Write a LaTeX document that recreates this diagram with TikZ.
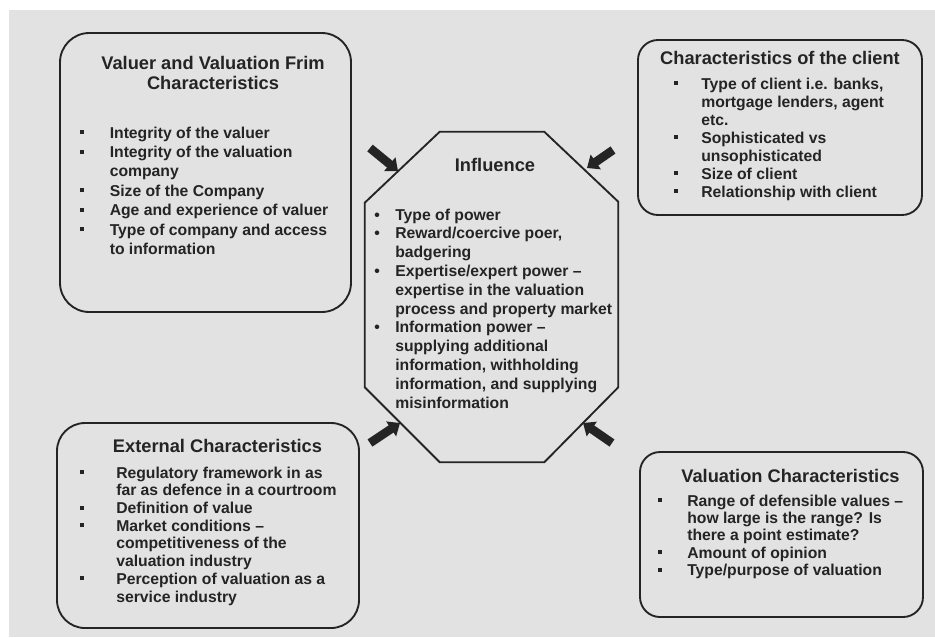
\documentclass[tikz,border=0pt]{standalone}
\usepackage{fontspec}
\setmainfont{Liberation Sans}
\usepackage{tikz}
\usetikzlibrary{arrows.meta}
\usetikzlibrary{calc}
\definecolor{paper}{RGB}{226,226,226}
\definecolor{ink}{RGB}{36,36,36}
\newcommand{\sqbul}{\raisebox{0.25em}{\rule{3pt}{3pt}}}
\newcommand{\rdbul}{\textbullet}
\tikzset{panel/.style = {draw = ink, line width = 1.4pt, inner sep = 0}}
\tikzset{heading/.style = {anchor = base, inner sep = 0, text = ink,
                           font = \bfseries\fontsize{13.7}{15}\selectfont}}
\tikzset{items/.style = {anchor = base west, inner sep = 0, text = ink,
                         font = \bfseries\fontsize{11.8}{#1}\selectfont}}
\tikzset{push/.style = {-{Triangle[length = 8pt, width = 13pt]},
                        line width = 6.5pt, draw = ink}}

\begin{document}
\begin{tikzpicture}[x = 0.75pt, y = -0.75pt]
      \useasboundingbox (0, 0) rectangle (935, 637);
      \fill [white] (0, 0) rectangle (935, 637);
      \fill [paper] (9, 10) rectangle (935, 637);

      % the four rounded frames
      \node [panel, rounded corners = 22pt, minimum width = 218.25pt,
             minimum height = 209.25pt] (valuer) at (205.5, 172.5) {};
      \node [panel, rounded corners = 15pt, minimum width = 213pt,
             minimum height = 131.25pt] (client) at (780, 127.5) {};
      \node [panel, rounded corners = 21pt, minimum width = 226.5pt,
             minimum height = 153.75pt] (external) at (208, 525.5) {};
      \node [panel, rounded corners = 15pt, minimum width = 212.25pt,
             minimum height = 123.75pt] (valuation) at (781.5, 534.5) {};

      % octagon cut from the corners of an empty box
      \node [inner sep = 0, minimum width = 189.75pt,
             minimum height = 247.5pt] (infl) at (491.5, 297) {};
      \draw [ink, line width = 1.4pt]
            ($(infl.north west) + (75, 0)$) -- ($(infl.north east) + (-74, 0)$)
         -- ($(infl.north east) + (0, 70)$) -- ($(infl.south east) + (0, -75)$)
         -- ($(infl.south east) + (-74, 0)$) -- ($(infl.south west) + (75, 0)$)
         -- ($(infl.south west) + (0, -75)$) -- ($(infl.north west) + (0, 71)$)
         -- cycle;

      \node [heading] (valuerhead) at (213, 69.5)
            {\begin{tabular}[t]{@{}c@{}}Valuer and Valuation Frim\\ Characteristics\end{tabular}};
      \node [items = 14.6pt] (valuerlist) at (79.5, 138)
            {\begin{tabular}[t]{@{}p{22.5pt}@{}l@{}}
             \sqbul & Integrity of the valuer\\
             \sqbul & Integrity of the valuation\\
                    & company\\
             \sqbul & Size of the Company\\
             \sqbul & Age and experience of valuer\\
             \sqbul & Type of company and access\\
                    & to information
             \end{tabular}};

      \node [heading] (clienthead) at (780, 64.5) {Characteristics of the client};
      \node [items = 13.5pt] (clientlist) at (674, 89)
            {\begin{tabular}[t]{@{}p{20.25pt}@{}l@{}}
             \sqbul & Type of client i.e. banks,\\
                    & mortgage lenders, agent\\
                    & etc.\\
             \sqbul & Sophisticated vs\\
                    & unsophisticated\\
             \sqbul & Size of client\\
             \sqbul & Relationship with client
             \end{tabular}};

      \node [heading] (inflhead) at (495, 171.5) {Influence};
      \node [items = 14.1pt] (infllist) at (374, 220)
            {\begin{tabular}[t]{@{}p{15.75pt}@{}l@{}}
             \rdbul & Type of power\\
             \rdbul & Reward/coercive poer,\\
                    & badgering\\
             \rdbul & Expertise/expert power --\\
                    & expertise in the valuation\\
                    & process and property market\\
             \rdbul & Information power --\\
                    & supplying additional\\
                    & information, withholding\\
                    & information, and supplying\\
                    & misinformation
             \end{tabular}};

      \node [heading] (externalhead) at (217.5, 452.5) {External Characteristics};
      \node [items = 13.3pt] (externallist) at (80, 478)
            {\begin{tabular}[t]{@{}p{27pt}@{}l@{}}
             \sqbul & Regulatory framework in as\\
                    & far as defence in a courtroom\\
             \sqbul & Definition of value\\
             \sqbul & Market conditions --\\
                    & competitiveness of the\\
                    & valuation industry\\
             \sqbul & Perception of valuation as a\\
                    & service industry
             \end{tabular}};

      \node [heading] (valuationhead) at (790.5, 482.5) {Valuation Characteristics};
      \node [items = 13.1pt] (valuationlist) at (658, 506)
            {\begin{tabular}[t]{@{}p{21.75pt}@{}l@{}}
             \sqbul & Range of defensible values --\\
                    & how large is the range? Is\\
                    & there a point estimate?\\
             \sqbul & Amount of opinion\\
             \sqbul & Type/purpose of valuation
             \end{tabular}};

      % short arrows pushing on the octagon
      \coordinate (pushnw) at (370, 148);
      \coordinate (pushne) at (613, 150);
      \coordinate (pushsw) at (370, 443);
      \coordinate (pushse) at (612, 443);
      \coordinate (tipnw) at (398, 171);
      \coordinate (tipne) at (587, 168);
      \coordinate (tipsw) at (400, 423);
      \coordinate (tipse) at (583, 423);
      \draw [push] (pushnw) -- (tipnw);
      \draw [push] (pushne) -- (tipne);
      \draw [push] (pushsw) -- (tipsw);
      \draw [push] (pushse) -- (tipse);
\end{tikzpicture}
\end{document}
